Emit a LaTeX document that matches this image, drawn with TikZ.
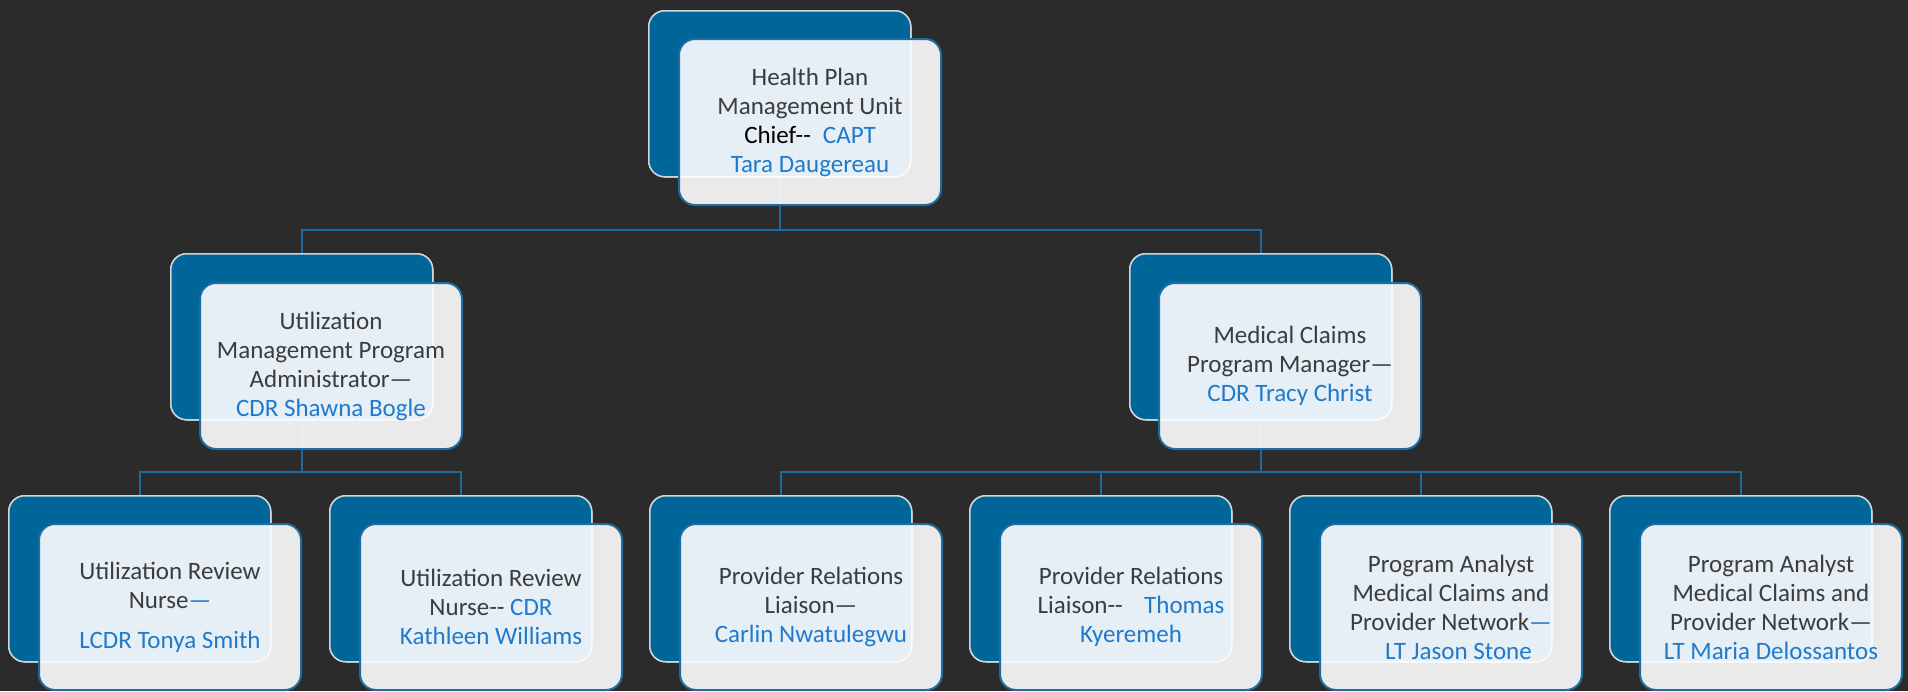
\documentclass[tikz,border=0pt]{standalone}
\usepackage{fontspec}
\setmainfont{Carlito}
\definecolor{bg}{RGB}{43,43,43}
\definecolor{backblue}{RGB}{0,101,153}
\definecolor{frontedge}{RGB}{30,108,160}
\definecolor{backedge}{RGB}{205,212,220}
\definecolor{conn}{RGB}{30,106,158}
\definecolor{txt}{RGB}{60,60,60}
\definecolor{nm}{RGB}{32,122,204}
\newcommand\dd{-\kern0pt-}
\newcommand\nm[1]{\textcolor{nm}{#1}}
\tikzset{
  backbox/.style={draw=backedge, line width=1.5pt, fill=backblue, rounded corners=16pt,
    minimum width=262pt, minimum height=166pt, inner sep=0pt, anchor=north west},
  frontbox/.style={draw=frontedge, line width=2pt, fill=white, fill opacity=0.9, text opacity=1,
    rounded corners=16pt, minimum width=262pt, minimum height=166pt, inner sep=0pt,
    anchor=north west, align=center, text=txt,
    font=\fontsize{25pt}{29pt}\selectfont},
  connector/.style={draw=conn, line width=2pt}
}
\begin{document}
\begin{tikzpicture}[x=1pt,y=-1pt]
\useasboundingbox (0,0) rectangle (1908,691);
\fill[bg] (0,0) rectangle (1908,691);
% coordinates of back boxes (top-left)
\coordinate (p0) at (648,10);
\coordinate (p1) at (170,253);
\coordinate (p2) at (1129,253);
\coordinate (q1) at (8,495);
\coordinate (q2) at (329,495);
\coordinate (q3) at (649,495);
\coordinate (q4) at (969,495);
\coordinate (q5) at (1289,495);
\coordinate (q6) at (1609,495);
% back boxes first (as named nodes) so connectors can use them
\node[backbox] (b0) at (p0) {};
\node[backbox] (b1) at (p1) {};
\node[backbox] (b2) at (p2) {};
\node[backbox] (c1) at (q1) {};
\node[backbox] (c2) at (q2) {};
\node[backbox] (c3) at (q3) {};
\node[backbox] (c4) at (q4) {};
\node[backbox] (c5) at (q5) {};
\node[backbox] (c6) at (q6) {};
% connectors
\path[connector] (b0.south) -- ++(0,52) coordinate (h0);
\path[connector] (h0) -| (b1.north);
\path[connector] (h0) -| (b2.north);
\path[connector] (b1.south) -- ++(0,51) coordinate (h1);
\path[connector] (h1) -| (c1.north);
\path[connector] (h1) -| (c2.north);
\path[connector] (b2.south) -- ++(0,51) coordinate (h2);
\path[connector] (h2) -| (c3.north);
\path[connector] (h2) -| (c4.north);
\path[connector] (h2) -| (c5.north);
\path[connector] (h2) -| (c6.north);
% redraw back boxes over connector ends
\node[backbox] at (p0) {};
\node[backbox] at (p1) {};
\node[backbox] at (p2) {};
\node[backbox] at (q1) {};
\node[backbox] at (q2) {};
\node[backbox] at (q3) {};
\node[backbox] at (q4) {};
\node[backbox] at (q5) {};
\node[backbox] at (q6) {};
% front boxes
\node[frontbox] (f0) at ([shift={(30,28)}]p0) {Health Plan\\Management Unit\\\textcolor{black}{Chief\dd}\hspace{0.48em}\nm{CAPT}\\\nm{Tara Daugereau}};
\node[frontbox] (f1) at ([shift={(29,29)}]p1) {Utilization\\Management Program\\Administrator—\\\nm{CDR Shawna Bogle}};
\node[frontbox] (f2) at ([shift={(29,29)}]p2) {Medical Claims\\Program Manager—\\\nm{CDR Tracy Christ}};
\node[frontbox] (g1) at ([shift={(30,28)}]q1) {Utilization Review\\Nurse\nm{—}\\[11pt]\nm{LCDR Tonya Smith}};
\node[frontbox] (g2) at ([shift={(30,28)}]q2) {Utilization Review\\Nurse\dd{} \nm{CDR}\\\nm{Kathleen Williams}};
\node[frontbox] (g3) at ([shift={(30,28)}]q3) {Provider Relations\\Liaison—\\\nm{Carlin Nwatulegwu}};
\node[frontbox] (g4) at ([shift={(30,28)}]q4) {Provider Relations\\Liaison\dd\hspace{0.85em}\nm{Thomas}\\\nm{Kyeremeh}};
\node[frontbox] (g5) at ([shift={(30,28)}]q5) {Program Analyst\\Medical Claims and\\Provider Network\nm{—}\\\hspace{0.6em}\nm{LT Jason Stone}};
\node[frontbox] (g6) at ([shift={(30,28)}]q6) {Program Analyst\\Medical Claims and\\Provider Network—\\\nm{LT Maria Delossantos}};
\end{tikzpicture}
\end{document}
